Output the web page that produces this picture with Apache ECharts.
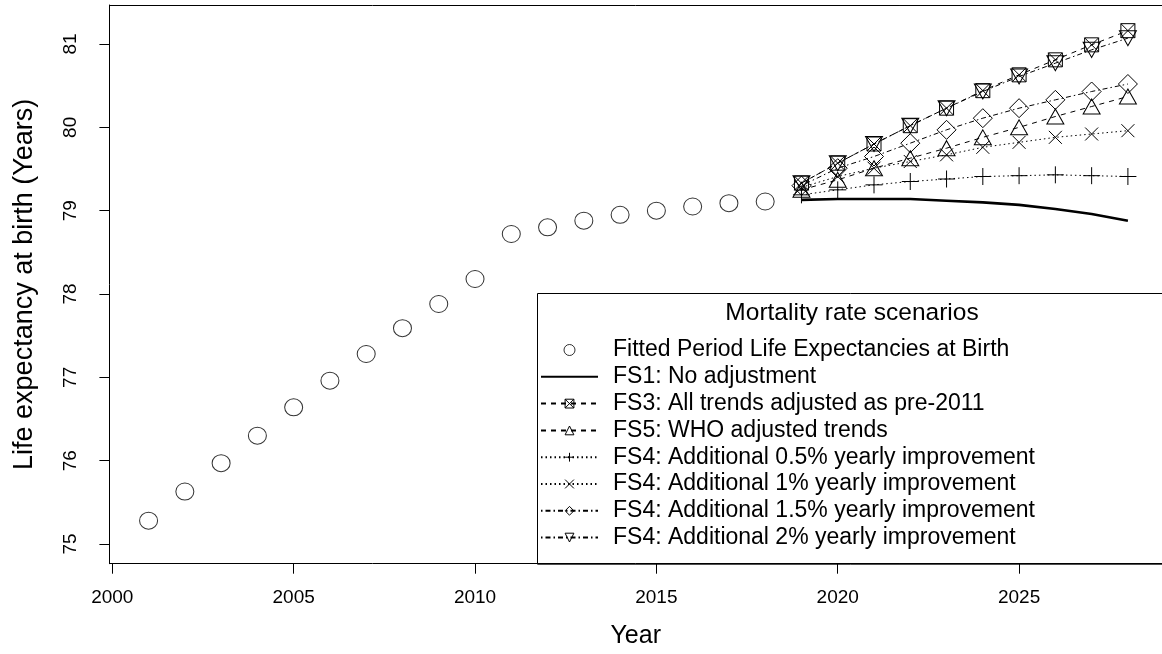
<!DOCTYPE html>
<html>
<head>
<meta charset="utf-8">
<script src="https://cdn.jsdelivr.net/npm/echarts@6/dist/echarts.min.js"></script>
<style>
  html, body { margin: 0; padding: 0; background: #fff; }
  #chart { width: 1162px; height: 654px; }
</style>
</head>
<body>
<div id="chart"></div>
<script>
// Fitted period life expectancy at birth, 2001-2018
const histYears = [2001, 2002, 2003, 2004, 2005, 2006, 2007, 2008, 2009,
                   2010, 2011, 2012, 2013, 2014, 2015, 2016, 2017, 2018];
const fittedLE = [75.28, 75.63, 75.97, 76.30, 76.64, 76.96, 77.28, 77.59, 77.88,
                  78.18, 78.72, 78.80, 78.88, 78.95, 79.00, 79.05, 79.09, 79.11];

// Projection years and scenario results
const projYears = [2019, 2020, 2021, 2022, 2023, 2024, 2025, 2026, 2027, 2028];
const fs1NoAdj   = [79.13, 79.14, 79.14, 79.14, 79.12, 79.10, 79.07, 79.02, 78.96, 78.88];
const fs3Pre2011 = [79.33, 79.57, 79.80, 80.02, 80.23, 80.44, 80.63, 80.81, 80.99, 81.16];
const fs5Who     = [79.25, 79.37, 79.51, 79.63, 79.75, 79.88, 80.00, 80.13, 80.25, 80.37];
const fs4Half    = [79.19, 79.25, 79.31, 79.35, 79.38, 79.41, 79.42, 79.43, 79.42, 79.41];
const fs4One     = [79.28, 79.41, 79.51, 79.59, 79.67, 79.76, 79.82, 79.88, 79.92, 79.96];
const fs4OneHalf = [79.30, 79.51, 79.65, 79.81, 79.97, 80.11, 80.23, 80.33, 80.43, 80.52];
const fs4Two     = [79.33, 79.57, 79.80, 80.02, 80.23, 80.43, 80.61, 80.77, 80.93, 81.07];

// Axis ticks
const xTicks = [2000, 2005, 2010, 2015, 2020, 2025];
const yTicks = [75, 76, 77, 78, 79, 80, 81];

const seriesNames = [
  'Fitted Period Life Expectancies at Birth',
  'FS1: No adjustment',
  'FS3: All trends adjusted as pre-2011',
  'FS5: WHO adjusted trends',
  'FS4: Additional 0.5% yearly improvement',
  'FS4: Additional 1% yearly improvement',
  'FS4: Additional 1.5% yearly improvement',
  'FS4: Additional 2% yearly improvement'
];

const FONT = '"Liberation Sans", Arial, Helvetica, sans-serif';
// visible year range; the frame runs on past the right edge of the page
const X_MIN = 1999.92, X_MAX = 2028.94;

const pairs = (xs, ys) => xs.map((x, i) => [x, ys[i]]);

// Open plotting symbols
const SYM_SQX   = 'path://M0,0L10,0L10,10L0,10Z M0,0L10,10 M10,0L0,10';
const SYM_PLUS  = 'path://M5,0L5,10 M0,5L10,5';
const SYM_CROSS = 'path://M0,0L10,10 M10,0L0,10';
const SYM_UP    = 'path://M5,0L10,8.66L0,8.66Z';
const SYM_DOWN  = 'path://M0,0L10,0L5,8.66Z';

const openItem = { color: 'transparent', borderColor: '#000', borderWidth: 1 };

function scenario(name, values, symbol, size, dash) {
  return {
    name: name,
    type: 'line',
    data: pairs(projYears, values),
    symbol: symbol,
    symbolSize: size,
    showSymbol: true,
    showAllSymbol: true,
    lineStyle: { color: '#000', width: 1, type: dash },
    itemStyle: openItem,
    emphasis: { disabled: true },
    z: 3
  };
}

const chart = echarts.init(document.getElementById('chart'), null, { renderer: 'canvas' });

chart.setOption({
  animation: false,
  backgroundColor: '#fff',
  textStyle: { fontFamily: FONT, color: '#000' },
  grid: {
    left: 109.4,
    top: 5,
    right: 0,
    bottom: 90.3,
    show: false
  },
  xAxis: [
    {
      type: 'value',
      min: X_MIN,
      max: X_MAX,
      position: 'bottom',
      name: 'Year',
      nameLocation: 'middle',
      nameGap: 60,
      nameTextStyle: { fontFamily: FONT, fontSize: 25, color: '#000' },
      axisLine: { show: true, onZero: false, lineStyle: { color: '#000', width: 1 } },
      splitLine: { show: false },
      axisTick: {
        show: true, length: 10, customValues: xTicks,
        lineStyle: { color: '#000', width: 1 }
      },
      axisLabel: {
        customValues: xTicks, margin: 25,
        fontFamily: FONT, fontSize: 19, color: '#000',
        formatter: v => String(v)
      }
    },
    {
      // top edge of the plot frame
      type: 'value',
      min: X_MIN,
      max: X_MAX,
      position: 'top',
      axisLine: { show: true, onZero: false, lineStyle: { color: '#000', width: 1 } },
      axisTick: { show: false },
      axisLabel: { show: false },
      splitLine: { show: false }
    }
  ],
  yAxis: {
    type: 'value',
    min: 74.764,
    max: 81.468,
    name: 'Life expectancy at birth (Years)',
    nameLocation: 'middle',
    nameGap: 71,
    nameTextStyle: { fontFamily: FONT, fontSize: 27, color: '#000' },
    axisLine: { show: true, onZero: false, lineStyle: { color: '#000', width: 1 } },
    splitLine: { show: false },
    axisTick: {
      show: true, length: 10, customValues: yTicks,
      lineStyle: { color: '#000', width: 1 }
    },
    axisLabel: {
      customValues: yTicks, margin: 29, rotate: 90,
      fontFamily: FONT, fontSize: 19, color: '#000',
      formatter: v => String(v)
    }
  },
  legend: {
    orient: 'vertical',
    left: 540,
    top: 338.5,
    padding: 0,
    itemWidth: 57,
    itemHeight: 11,
    itemGap: 3.8,
    selectedMode: false,
    itemStyle: { color: 'transparent', borderColor: '#000', borderWidth: 1 },
    textStyle: { fontFamily: FONT, fontSize: 23, color: '#000', padding: [0, 0, 0, 10] },
    data: seriesNames.map((n, i) => i === 1
      ? { name: n, itemStyle: { opacity: 0 } }
      : { name: n })
  },
  graphic: [
    {
      type: 'rect',
      left: 537, top: 293,
      shape: { width: 700, height: 270.7 },
      style: { fill: 'transparent', stroke: '#000', lineWidth: 1 },
      z: 1
    },
    {
      type: 'text',
      x: 852, y: 313,
      style: {
        text: 'Mortality rate scenarios',
        font: '24.5px ' + FONT,
        fill: '#000',
        textAlign: 'center',
        textVerticalAlign: 'middle'
      },
      z: 2
    }
  ],
  series: [
    {
      name: seriesNames[0],
      type: 'scatter',
      data: pairs(histYears, fittedLE),
      symbol: 'circle',
      symbolSize: [18, 17],
      itemStyle: openItem,
      emphasis: { disabled: true },
      z: 3
    },
    {
      name: seriesNames[1],
      type: 'line',
      data: pairs(projYears, fs1NoAdj),
      symbol: 'none',
      lineStyle: { color: '#000', width: 2.6, type: 'solid' },
      itemStyle: { color: '#000' },
      emphasis: { disabled: true },
      z: 3
    },
    scenario(seriesNames[2], fs3Pre2011, SYM_SQX, 14, [5, 5]),
    scenario(seriesNames[3], fs5Who, SYM_UP, [17, 15], [5, 5]),
    scenario(seriesNames[4], fs4Half, SYM_PLUS, 17, [1.5, 3]),
    scenario(seriesNames[5], fs4One, SYM_CROSS, 13, [1.5, 3]),
    scenario(seriesNames[6], fs4OneHalf, 'diamond', 19, [1.5, 3, 5, 3]),
    scenario(seriesNames[7], fs4Two, SYM_DOWN, [17, 15], [1.5, 3, 5, 3])
  ]
});
</script>
</body>
</html>
